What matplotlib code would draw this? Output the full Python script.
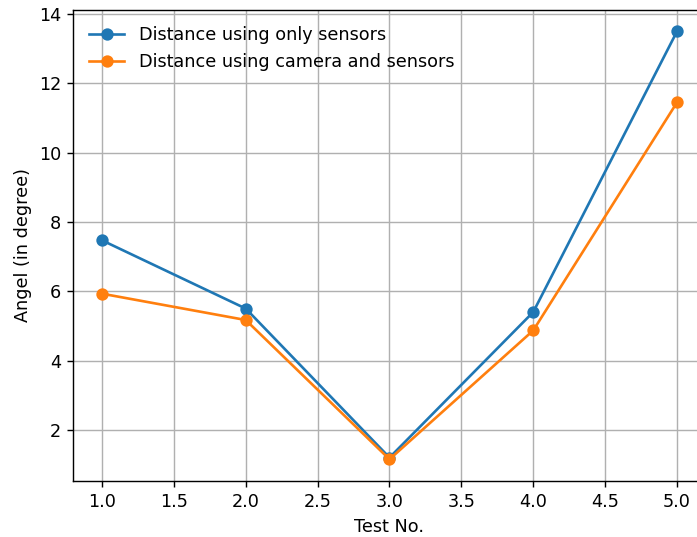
import matplotlib.pyplot as plt

test_no = [1, 2, 3, 4, 5]
only_sensors = [7.47, 5.5, 1.2, 5.4, 13.5]
camera_sensors = [5.93, 5.17, 1.15, 4.87, 11.45]

W, H = 697, 537
DPI = 127
fig = plt.figure(figsize=(W / DPI, H / DPI), dpi=DPI)
ax = fig.add_axes([73.25 / W, 56.3 / H, 632.5 / W, 470.7 / H])

ax.plot(test_no, only_sensors, marker="o", label="Distance using only sensors")
ax.plot(test_no, camera_sensors, marker="o", label="Distance using camera and sensors")
ax.set_xlabel("Test No.")
ax.set_ylabel("Angel (in degree)")
ax.grid(True)
ax.legend(loc="upper left", frameon=False)

fig.savefig("out.png", dpi=DPI)
